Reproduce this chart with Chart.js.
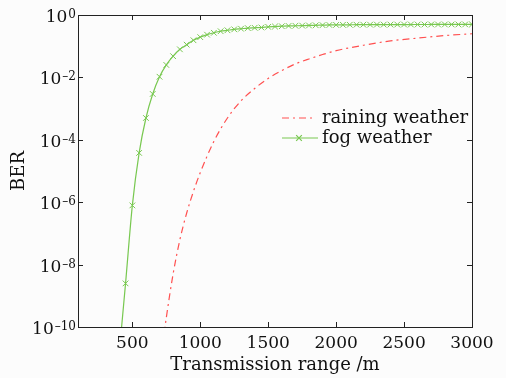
<!DOCTYPE html>
<html>
<head>
<meta charset="utf-8">
<script src="https://cdn.jsdelivr.net/npm/chart.js@4.4.1/dist/chart.umd.min.js"></script>
<style>
    html, body { margin: 0; padding: 0; background: #fcfcfc; }
    canvas { display: block; }
</style>
</head>
<body>
<canvas id="berChart" width="506" height="378"></canvas>
<script>
// tick values
const rangeTicks = [500, 1000, 1500, 2000, 2500, 3000];
const berExponents = [0, -2, -4, -6, -8, -10];

// raining weather
const rainRange = [700, 750, 800, 850, 900, 950, 1000, 1100, 1200, 1300, 1400, 1500,
    1600, 1700, 1800, 1900, 2000, 2200, 2400, 2600, 2800, 3000];
const rainBER = [5e-12, 2e-10, 5e-9, 6.3e-8, 4.5e-7, 2.24e-6, 8.9e-6, 8.9e-5, 5.0e-4, 1.78e-3, 4.4e-3, 9.3e-3,
    0.0166, 0.027, 0.039, 0.054, 0.072, 0.107, 0.148, 0.182, 0.219, 0.251];

// fog weather
const fogRange = [400, 450, 500, 550, 600, 650, 700, 750, 800, 850, 900, 950, 1000,
    1050, 1100, 1150, 1200, 1250, 1300, 1350, 1400, 1450, 1500, 1550, 1600, 1650,
    1700, 1750, 1800, 1850, 1900, 1950, 2000, 2050, 2100, 2150, 2200, 2250, 2300,
    2350, 2400, 2450, 2500, 2550, 2600, 2650, 2700, 2750, 2800, 2850, 2900, 2950, 3000];
const fogBER = [1e-11, 2.5e-9, 7.9e-7, 3.8e-5, 5.0e-4, 2.95e-3, 0.0105, 0.0251, 0.0479, 0.0794, 0.112, 0.155, 0.195,
    0.234, 0.269, 0.302, 0.324, 0.347, 0.363, 0.380, 0.389, 0.398, 0.417, 0.427, 0.437, 0.447,
    0.452, 0.457, 0.462, 0.468, 0.473, 0.479, 0.481, 0.484, 0.486, 0.488, 0.489, 0.490, 0.491,
    0.492, 0.493, 0.494, 0.495, 0.495, 0.496, 0.496, 0.497, 0.497, 0.498, 0.498, 0.498, 0.499, 0.499];

const serif = "'DejaVu Serif', serif";
const redColor = 'rgb(255, 80, 80)';
const greenColor = 'rgb(120, 200, 80)';

function toPoints(xs, ys) {
    return xs.map((x, i) => ({ x: x, y: ys[i] }));
}

// frame with inward ticks, superscript y labels and the legend
const decorPlugin = {
    id: 'decor',
    afterDraw(chart) {
        const ctx = chart.ctx;
        const area = chart.chartArea;
        const xs = chart.scales.x;
        const ys = chart.scales.y;
        const tickLen = 5;

        ctx.save();
        ctx.strokeStyle = '#222';
        ctx.lineWidth = 1;
        ctx.setLineDash([]);
        ctx.strokeRect(area.left + 0.5, area.top + 0.5, area.right - area.left, area.bottom - area.top);

        ctx.beginPath();
        rangeTicks.forEach(v => {
            const px = Math.round(xs.getPixelForValue(v)) + 0.5;
            ctx.moveTo(px, area.bottom);
            ctx.lineTo(px, area.bottom - tickLen);
            ctx.moveTo(px, area.top);
            ctx.lineTo(px, area.top + tickLen);
        });
        berExponents.forEach(e => {
            const py = Math.round(ys.getPixelForValue(Math.pow(10, e))) + 0.5;
            ctx.moveTo(area.left, py);
            ctx.lineTo(area.left + tickLen, py);
            ctx.moveTo(area.right, py);
            ctx.lineTo(area.right - tickLen, py);
        });
        ctx.stroke();

        // y tick labels as 10^n
        ctx.fillStyle = '#111';
        ctx.textBaseline = 'alphabetic';
        ctx.textAlign = 'right';
        berExponents.forEach(e => {
            const py = ys.getPixelForValue(Math.pow(10, e));
            const expText = e === 0 ? '0' : '\u2013' + Math.abs(e);
            ctx.font = '12px ' + serif;
            const expW = ctx.measureText(expText).width;
            const right = area.left - 2;
            ctx.fillText(expText, right, py + 3);
            ctx.font = '17px ' + serif;
            ctx.fillText('10', right - expW - 1, py + 7);
        });

        // legend
        const lx = area.left + 204;
        const ly1 = area.top + 103;
        const ly2 = area.top + 123;
        ctx.lineWidth = 1.2;
        ctx.strokeStyle = redColor;
        ctx.setLineDash([7, 4, 2, 4]);
        ctx.beginPath();
        ctx.moveTo(lx, ly1);
        ctx.lineTo(lx + 30, ly1);
        ctx.stroke();
        ctx.setLineDash([]);
        ctx.strokeStyle = greenColor;
        ctx.beginPath();
        ctx.moveTo(lx, ly2);
        ctx.lineTo(lx + 36, ly2);
        ctx.stroke();
        Chart.helpers.drawPoint(ctx, { pointStyle: 'crossRot', radius: 4, borderWidth: 1 }, lx + 17, ly2);

        ctx.fillStyle = '#111';
        ctx.font = '18px ' + serif;
        ctx.textAlign = 'left';
        ctx.textBaseline = 'middle';
        ctx.fillText('raining weather', lx + 40, ly1);
        ctx.fillText('fog weather', lx + 40, ly2);
        ctx.restore();
    }
};

const chart = new Chart(document.getElementById('berChart'), {
    type: 'line',
    data: {
        datasets: [{
            label: 'raining weather',
            data: toPoints(rainRange, rainBER),
            borderColor: redColor,
            borderWidth: 1.2,
            borderDash: [7, 4, 2, 4],
            pointRadius: 0,
            cubicInterpolationMode: 'monotone',
            fill: false
        }, {
            label: 'fog weather',
            data: toPoints(fogRange, fogBER),
            borderColor: greenColor,
            borderWidth: 1.2,
            pointStyle: 'crossRot',
            pointRadius: 4,
            pointBorderWidth: 1,
            pointBorderColor: greenColor,
            cubicInterpolationMode: 'monotone',
            fill: false
        }]
    },
    options: {
        responsive: false,
        animation: false,
        devicePixelRatio: 1,
        layout: { padding: { top: 15, right: 34, left: 0, bottom: 0 } },
        plugins: {
            legend: { display: false },
            tooltip: { enabled: false }
        },
        scales: {
            x: {
                type: 'linear',
                min: 100,
                max: 3000,
                afterBuildTicks: scale => {
                    scale.ticks = rangeTicks.map(v => ({ value: v }));
                },
                afterFit: scale => { scale.height = 51; },
                grid: { display: false, drawTicks: false },
                border: { display: false },
                ticks: {
                    color: '#111',
                    font: { family: serif, size: 17 },
                    padding: 6,
                    maxRotation: 0,
                    callback: value => String(value)
                },
                title: {
                    display: true,
                    text: 'Transmission range /m',
                    color: '#111',
                    font: { family: serif, size: 18 },
                    padding: { top: 0, bottom: 2 }
                }
            },
            y: {
                type: 'logarithmic',
                min: 1e-10,
                max: 1,
                afterBuildTicks: scale => {
                    scale.ticks = berExponents.map(e => ({ value: Math.pow(10, e) }));
                },
                afterFit: scale => { scale.width = 78; },
                grid: { display: false, drawTicks: false },
                border: { display: false },
                ticks: { display: false },
                title: {
                    display: true,
                    text: 'BER',
                    color: '#111',
                    font: { family: serif, size: 18 },
                    padding: { top: 9, bottom: 0 }
                }
            }
        }
    },
    plugins: [decorPlugin]
});
</script>
</body>
</html>
